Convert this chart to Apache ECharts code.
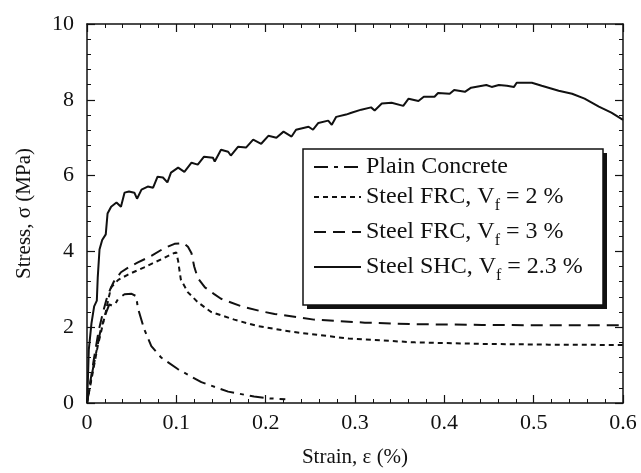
<!DOCTYPE html>
<html><head><meta charset="utf-8">
<script src="https://cdn.jsdelivr.net/npm/echarts@6/dist/echarts.min.js"></script>
<style>html,body{margin:0;padding:0;background:#fff}#c{width:641px;height:473px}</style>
</head><body><div id="c"></div>
<script>
// ---- data (strain %, stress MPa) ----
const seriesNames = ['Plain Concrete', 'Steel FRC, Vf = 2 %', 'Steel FRC, Vf = 3 %', 'Steel SHC, Vf = 2.3 %'];
const legendMain = ['Plain Concrete', 'Steel FRC, V', 'Steel FRC, V', 'Steel SHC, V'];
const legendSub = ['', 'f', 'f', 'f'];
const legendTail = ['', ' = 2 %', ' = 3 %', ' = 2.3 %'];

const plainConcrete = [[0,0],[0.005,0.7],[0.01,1.3],[0.015,1.9],[0.02,2.3],[0.025,2.6],[0.03,2.55],[0.035,2.75],[0.042,2.87],[0.05,2.88],[0.055,2.82],[0.057,2.5],[0.064,1.95],[0.072,1.5],[0.083,1.2],[0.102,0.89],[0.128,0.55],[0.158,0.3],[0.187,0.17],[0.205,0.12],[0.222,0.1]];

const steelFRC2 = [[0,0],[0.004,0.5],[0.008,1.0],[0.012,1.5],[0.017,2.0],[0.021,2.4],[0.024,2.75],[0.027,3.05],[0.035,3.25],[0.046,3.39],[0.064,3.58],[0.083,3.79],[0.097,3.95],[0.1,3.97],[0.102,3.75],[0.105,3.26],[0.113,2.92],[0.124,2.66],[0.139,2.4],[0.165,2.2],[0.18,2.1],[0.191,2.03],[0.229,1.88],[0.293,1.7],[0.367,1.6],[0.442,1.56],[0.517,1.54],[0.6,1.53]];

const steelFRC3 = [[0,0],[0.004,0.6],[0.008,1.2],[0.013,1.9],[0.018,2.4],[0.022,2.75],[0.026,3.0],[0.03,3.2],[0.038,3.45],[0.048,3.6],[0.057,3.71],[0.072,3.88],[0.086,4.08],[0.098,4.2],[0.108,4.22],[0.113,4.12],[0.117,3.95],[0.12,3.6],[0.124,3.3],[0.132,3.05],[0.142,2.88],[0.15,2.75],[0.173,2.55],[0.195,2.42],[0.21,2.35],[0.254,2.2],[0.311,2.12],[0.367,2.08],[0.442,2.06],[0.517,2.05],[0.6,2.05]];

const steelSHC = [[0,0],[0.001,0.6],[0.002,1.4],[0.005,2.1],[0.008,2.55],[0.011,2.7],[0.012,3.3],[0.014,4.05],[0.017,4.3],[0.021,4.45],[0.023,5.0],[0.027,5.18],[0.033,5.29],[0.038,5.18],[0.042,5.55],[0.047,5.58],[0.053,5.55],[0.056,5.39],[0.061,5.63],[0.068,5.71],[0.074,5.68],[0.079,5.97],[0.085,5.95],[0.09,5.82],[0.094,6.08],[0.102,6.21],[0.109,6.1],[0.117,6.34],[0.124,6.29],[0.131,6.5],[0.141,6.47],[0.143,6.37],[0.15,6.68],[0.158,6.63],[0.161,6.53],[0.169,6.76],[0.178,6.74],[0.186,6.95],[0.195,6.84],[0.203,7.05],[0.212,7.0],[0.22,7.16],[0.229,7.03],[0.234,7.21],[0.248,7.29],[0.253,7.21],[0.259,7.39],[0.27,7.45],[0.274,7.34],[0.279,7.55],[0.29,7.61],[0.296,7.66],[0.307,7.74],[0.318,7.8],[0.322,7.72],[0.33,7.9],[0.341,7.92],[0.354,7.84],[0.36,8.03],[0.371,7.97],[0.377,8.08],[0.389,8.08],[0.393,8.18],[0.406,8.16],[0.411,8.26],[0.423,8.21],[0.43,8.32],[0.447,8.39],[0.453,8.34],[0.461,8.39],[0.47,8.37],[0.478,8.34],[0.481,8.45],[0.498,8.45],[0.509,8.37],[0.528,8.24],[0.543,8.16],[0.557,8.03],[0.573,7.82],[0.587,7.66],[0.6,7.47]];

const xTicks = {min: 0, max: 0.6, step: 0.1};
const yTicks = {min: 0, max: 10, step: 2};

// ---- chart ----
const FONT = 'Liberation Serif';
const INK = '#111';
const allData = [plainConcrete, steelFRC2, steelFRC3, steelSHC];
const dashes = [[14,6,4,6],[5,4],[12,7],'solid'];

const chart = echarts.init(document.getElementById('c'), null, {renderer: 'canvas'});

function axisCommon(showLabel) {
  return {
    type: 'value',
    axisLine: {show: true, onZero: false, lineStyle: {color: INK, width: 1.5}},
    axisTick: {show: true, inside: true, length: 8, lineStyle: {color: INK, width: 1.2}},
    minorTick: {show: true, splitNumber: 5, length: 4, lineStyle: {color: INK, width: 1}},
    splitLine: {show: false},
    axisLabel: {show: showLabel, fontFamily: FONT, fontSize: 22, color: INK},
  };
}

// legend frame (decoration): box with drop shadow
const box = {x: 303, y: 149, w: 300, h: 156, sh: 4};

const option = {
  animation: false,
  backgroundColor: '#fff',
  grid: {left: 87, right: 18, top: 24, bottom: 69, containLabel: false},
  xAxis: [
    Object.assign(axisCommon(true), {
      min: xTicks.min, max: xTicks.max, interval: xTicks.step, position: 'bottom',
      name: 'Strain, ε (%)', nameLocation: 'middle', nameGap: 44,
      nameTextStyle: {fontFamily: FONT, fontSize: 21, color: INK},
      axisLabel: {show: true, fontFamily: FONT, fontSize: 22, color: INK, margin: 9}
    }),
    Object.assign(axisCommon(false), {min: xTicks.min, max: xTicks.max, interval: xTicks.step, position: 'top'})
  ],
  yAxis: [
    Object.assign(axisCommon(true), {
      min: yTicks.min, max: yTicks.max, interval: yTicks.step, position: 'left',
      name: 'Stress, σ (MPa)', nameLocation: 'middle', nameGap: 52, nameRotate: 90,
      nameTextStyle: {fontFamily: FONT, fontSize: 21, color: INK},
      axisLabel: {show: true, fontFamily: FONT, fontSize: 22, color: INK, margin: 13}
    }),
    Object.assign(axisCommon(false), {min: yTicks.min, max: yTicks.max, interval: yTicks.step, position: 'right'})
  ],
  graphic: [
    {type: 'rect', z: 10, shape: {x: box.x + box.sh, y: box.y + box.sh, width: box.w, height: box.h},
     style: {fill: INK}},
    {type: 'rect', z: 11, shape: {x: box.x, y: box.y, width: box.w, height: box.h},
     style: {fill: '#fff', stroke: INK, lineWidth: 1.5}}
  ],
  legend: {
    orient: 'vertical',
    left: box.x, top: box.y,
    z: 20,
    data: seriesNames,
    itemWidth: 47, itemHeight: 12, itemGap: 1,
    padding: [6, 10, 6, 10],
    itemStyle: {color: 'rgba(0,0,0,0)', borderWidth: 0, opacity: 0},
    formatter: function (name) {
      const i = seriesNames.indexOf(name);
      if (!legendSub[i]) return '{m|' + legendMain[i] + '}';
      return '{n|' + legendMain[i] + '}{s|' + legendSub[i] + '}{n|' + legendTail[i] + '}';
    },
    textStyle: {
      fontFamily: FONT, fontSize: 24, color: INK,
      rich: {
        m: {fontFamily: FONT, fontSize: 24, color: INK, lineHeight: 24},
        n: {fontFamily: FONT, fontSize: 24, color: INK, lineHeight: 36},
        s: {fontFamily: FONT, fontSize: 16, color: INK, lineHeight: 16, padding: [18, 0, 0, 0]}
      }
    }
  },
  series: allData.map((d, i) => ({
    name: seriesNames[i],
    type: 'line',
    data: d,
    xAxisIndex: 0, yAxisIndex: 0,
    symbol: 'none', showSymbol: false,
    clip: true,
    lineStyle: {color: INK, width: 2, type: dashes[i]},
    itemStyle: {color: INK}
  }))
};
chart.setOption(option);
</script>
</body></html>
